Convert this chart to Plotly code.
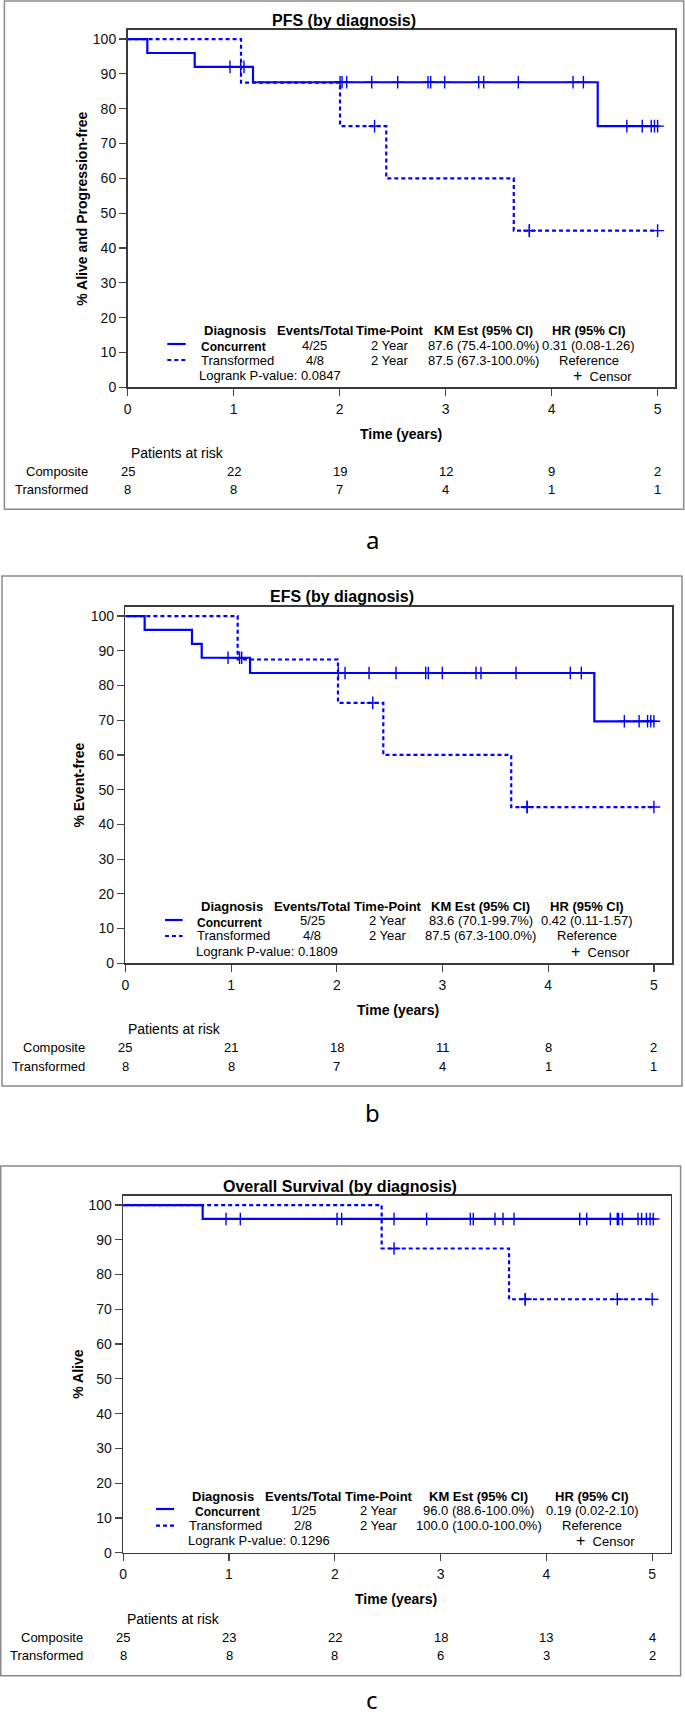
import plotly.graph_objects as go

W, H = 685, 1716
FONT = "Liberation Sans, Arial, sans-serif"
BLUE = "#0000FF"

# ---------------- data ----------------
titles = ["PFS (by diagnosis)", "EFS (by diagnosis)", "Overall Survival (by diagnosis)"]
ytitles = ["% Alive and Progression-free", "% Event-free", "% Alive"]
panel_labels = ["a", "b", "c"]
groups = ["Concurrent", "Transformed"]
risk_rows = ["Composite", "Transformed"]
time_ticks = [0, 1, 2, 3, 4, 5]
surv_ticks = [0, 10, 20, 30, 40, 50, 60, 70, 80, 90, 100]

# PFS
pfs_conc_event_t = [0.186, 0.633, 1.183, 4.435]
pfs_conc_event_s = [96.0, 92.0, 87.6, 75.0]
pfs_conc_cens = [0.966, 1.067, 1.098, 2.004, 2.023, 2.067, 2.303, 2.548, 2.834, 2.859,
                 2.991, 3.312, 3.359, 3.686, 4.202, 4.300, 4.710, 4.855, 4.940, 4.970, 5.000]
pfs_tran_event_t = [1.070, 2.004, 2.440, 3.643]
pfs_tran_event_s = [87.5, 75.0, 60.0, 45.0]
pfs_tran_cens = [2.330, 3.790, 3.790, 5.000]
pfs_risk_comp = [25, 22, 19, 12, 9, 2]
pfs_risk_tran = [8, 8, 7, 4, 1, 1]
pfs_stats = [["4/25", "2 Year", "87.6 (75.4-100.0%)", "0.31 (0.08-1.26)"],
             ["4/8", "2 Year", "87.5 (67.3-100.0%)", "Reference"]]
pfs_logrank = "0.0847"

# EFS
efs_conc_event_t = [0.182, 0.630, 0.722, 1.179, 4.436]
efs_conc_event_s = [96.0, 92.0, 88.0, 83.6, 69.7]
efs_conc_cens = [0.971, 1.080, 1.100, 2.014, 2.078, 2.305, 2.560, 2.841, 2.866, 2.998,
                 3.317, 3.364, 3.695, 4.209, 4.313, 4.720, 4.860, 4.940, 4.970, 5.000]
efs_tran_event_t = [1.062, 2.011, 2.440, 3.650]
efs_tran_event_s = [87.5, 75.0, 60.0, 45.0]
efs_tran_cens = [2.340, 3.800, 3.800, 5.000]
efs_risk_comp = [25, 21, 18, 11, 8, 2]
efs_risk_tran = [8, 8, 7, 4, 1, 1]
efs_stats = [["5/25", "2 Year", "83.6 (70.1-99.7%)", "0.42 (0.11-1.57)"],
             ["4/8", "2 Year", "87.5 (67.3-100.0%)", "Reference"]]
efs_logrank = "0.1809"

# OS
os_conc_event_t = [0.751]
os_conc_event_s = [96.0]
os_conc_cens = [0.972, 1.107, 2.021, 2.065, 2.560, 2.868, 3.281, 3.309, 3.514, 3.590, 3.694,
                4.315, 4.381, 4.604, 4.670, 4.683, 4.718, 4.866, 4.900, 4.945, 4.980, 5.010]
os_tran_event_t = [2.443, 3.647]
os_tran_event_s = [87.5, 72.9]
os_tran_cens = [2.560, 3.800, 3.800, 4.670, 5.000]
os_risk_comp = [25, 23, 22, 18, 13, 4]
os_risk_tran = [8, 8, 8, 6, 3, 2]
os_stats = [["1/25", "2 Year", "96.0 (88.6-100.0%)", "0.19 (0.02-2.10)"],
            ["2/8", "2 Year", "100.0 (100.0-100.0%)", "Reference"]]
os_logrank = "0.1296"

stat_headers = ["Diagnosis", "Events/Total", "Time-Point", "KM Est (95% CI)", "HR (95% CI)"]

panels_data = [
    dict(ce_t=pfs_conc_event_t, ce_s=pfs_conc_event_s, cc=pfs_conc_cens,
         te_t=pfs_tran_event_t, te_s=pfs_tran_event_s, tc=pfs_tran_cens,
         rc=pfs_risk_comp, rt=pfs_risk_tran, stats=pfs_stats, lr=pfs_logrank),
    dict(ce_t=efs_conc_event_t, ce_s=efs_conc_event_s, cc=efs_conc_cens,
         te_t=efs_tran_event_t, te_s=efs_tran_event_s, tc=efs_tran_cens,
         rc=efs_risk_comp, rt=efs_risk_tran, stats=efs_stats, lr=efs_logrank),
    dict(ce_t=os_conc_event_t, ce_s=os_conc_event_s, cc=os_conc_cens,
         te_t=os_tran_event_t, te_s=os_tran_event_s, tc=os_tran_cens,
         rc=os_risk_comp, rt=os_risk_tran, stats=os_stats, lr=os_logrank),
]

# ---------------- layout geometry (pixels) ----------------
geo = [
    dict(box=(4.4, 1, 683.7, 509.3), plot=(127.6, 30, 675, 387.3), xmax=5.164, ymax=102.6,
         title=(344, 20), ytitle=(82, 208.7), xtitle=(401, 434), par=(129, 452.7),
         rows=(471.7, 490), rowlab=89.6, leg_y=(330.7, 345, 360, 375.7),
         cols=(234.6, 314.5, 390.1, 483.6, 588.9), diag_left=(198.8, 198.8),
         sample=(167.3, 185.7), lr_left=196.6, cens_right=634.3, lab_y=539),
    dict(box=(2, 576, 682, 1086), plot=(125.4, 606.7, 672, 963.3), xmax=5.171, ymax=102.7,
         title=(342, 596.7), ytitle=(78.6, 785), xtitle=(398.4, 1010), par=(126.3, 1029),
         rows=(1047.7, 1066.7), rowlab=86.5, leg_y=(906.7, 921, 936, 951.7),
         cols=(231.5, 312, 388, 480.6, 586.7), diag_left=(195.3, 195.3),
         sample=(165, 182.6), lr_left=194.4, cens_right=631.7, lab_y=1112),
    dict(box=(0.8, 1166, 680.6, 1675.7), plot=(123.2, 1196, 670.6, 1552.7), xmax=5.174, ymax=102.6,
         title=(340, 1186), ytitle=(77.8, 1374), xtitle=(396, 1599), par=(124.5, 1618.7),
         rows=(1637, 1655.7), rowlab=85.2, leg_y=(1496, 1510, 1525.7, 1540.7),
         cols=(222.8, 303, 379.2, 478.8, 592.4), diag_left=(193, 187),
         sample=(156, 174), lr_left=185.7, cens_right=637, lab_y=1699),
]


def X(px):
    return px / W


def Y(py):
    return 1 - py / H


fig = go.Figure()
annotations = []
shapes = []


def txt(x, y, text, size=13, bold=False, xanchor="center", xref="paper", color="#000",
        angle=0, family=FONT):
    annotations.append(dict(
        x=x, y=y, xref=xref, yref="paper", text=f"<b>{text}</b>" if bold else text,
        showarrow=False, xanchor=xanchor, yanchor="middle", textangle=angle,
        font=dict(family=family, size=size, color=color)))


def step_xy(ev_t, ev_s, cens):
    end = max(cens + ev_t)
    xs = [0] + list(ev_t) + [end]
    ys = [100] + list(ev_s) + [ev_s[-1]]
    return xs, ys


def surv_at(t, ev_t, ev_s):
    s = 100.0
    for et, es in zip(ev_t, ev_s):
        if et <= t:
            s = es
    return s


for i, (d, g) in enumerate(zip(panels_data, geo)):
    n = i + 1
    xa = "x" if n == 1 else f"x{n}"
    ya = "y" if n == 1 else f"y{n}"
    l, t, r, b = g["plot"]
    axis_common = dict(showgrid=False, zeroline=False, showline=True, mirror=True,
                       linecolor="#3a3a3a", linewidth=1.6, ticks="outside", ticklen=7,
                       tickwidth=1.2, tickcolor="#444", automargin=False,
                       tickfont=dict(family=FONT, size=14, color="#111"))
    fig.update_layout(**{
        ("xaxis" if n == 1 else f"xaxis{n}"): dict(
            domain=[X(l), X(r)], range=[0, g["xmax"]], anchor=ya,
            tickvals=time_ticks, ticklabelstandoff=1, **axis_common),
        ("yaxis" if n == 1 else f"yaxis{n}"): dict(
            domain=[Y(b), Y(t)], range=[0, g["ymax"]], anchor=xa,
            tickvals=surv_ticks, **axis_common),
    })

    # curves
    for ev_t, ev_s, cens, dash in [(d["ce_t"], d["ce_s"], d["cc"], "solid"),
                                   (d["te_t"], d["te_s"], d["tc"], "4px,3px")]:
        xs, ys = step_xy(ev_t, ev_s, cens)
        fig.add_trace(go.Scatter(x=xs, y=ys, mode="lines", line_shape="hv",
                                 line=dict(color=BLUE, width=2.2, dash=dash),
                                 xaxis=xa, yaxis=ya, showlegend=False, hoverinfo="skip"))
        fig.add_trace(go.Scatter(x=cens, y=[surv_at(c, ev_t, ev_s) for c in cens],
                                 mode="markers",
                                 marker=dict(symbol="cross-thin", size=9,
                                             line=dict(color=BLUE, width=1.4)),
                                 xaxis=xa, yaxis=ya, showlegend=False, hoverinfo="skip"))

    # outer box
    bx0, by0, bx1, by1 = g["box"]
    shapes.append(dict(type="rect", xref="paper", yref="paper", x0=X(bx0), x1=X(bx1),
                       y0=Y(by1), y1=Y(by0), line=dict(color="#8a8a8a", width=1.5)))

    # titles
    txt(X(g["title"][0]), Y(g["title"][1]), titles[i], size=16, bold=True)
    txt(X(g["ytitle"][0]), Y(g["ytitle"][1]), ytitles[i], size=14, bold=True, angle=-90)
    txt(X(g["xtitle"][0]), Y(g["xtitle"][1]), "Time (years)", size=14, bold=True)

    # risk table
    txt(X(g["par"][0]), Y(g["par"][1]), "Patients at risk", size=14, xanchor="left")
    for row_name, row_vals, ry in zip(risk_rows, [d["rc"], d["rt"]], g["rows"]):
        txt(X(g["rowlab"]), Y(ry), row_name, size=13, xanchor="right")
        for tv, v in zip(time_ticks, row_vals):
            txt(tv, Y(ry), str(v), size=13, xref=xa)

    # statistics legend
    hy, r1, r2, ly = g["leg_y"]
    for c, h in zip(g["cols"], stat_headers):
        txt(X(c), Y(hy), h, size=13, bold=True)
    txt(X(g["diag_left"][0]), Y(r1 + 2), groups[0], size=12, bold=True, xanchor="left")
    txt(X(g["diag_left"][1]), Y(r2), groups[1], size=13, xanchor="left")
    for ry, row in zip((r1, r2), d["stats"]):
        for c, v in zip(g["cols"][1:], row):
            txt(X(c), Y(ry), v, size=13)
    txt(X(g["lr_left"]), Y(ly), "Logrank P-value: " + d["lr"], size=13, xanchor="left")
    txt(X(g["cens_right"]), Y(ly), "<span style='font-size:16px'>+</span>  Censor", size=13,
        xanchor="right")
    s0, s1 = g["sample"]
    shapes.append(dict(type="line", xref="paper", yref="paper", x0=X(s0), x1=X(s1),
                       y0=Y(r1 - 1), y1=Y(r1 - 1), line=dict(color=BLUE, width=2.2)))
    shapes.append(dict(type="line", xref="paper", yref="paper", x0=X(s0), x1=X(s1),
                       y0=Y(r2), y1=Y(r2), line=dict(color=BLUE, width=2.2, dash="4px,3px")))

    # panel label
    txt(X(372), Y(g["lab_y"]), panel_labels[i], size=24, family="Noto Sans, Open Sans, sans-serif")

fig.update_layout(template="none", width=W, height=H, autosize=False,
                  margin=dict(l=0, r=0, t=0, b=0, autoexpand=False),
                  paper_bgcolor="white", plot_bgcolor="white",
                  annotations=annotations, shapes=shapes, showlegend=False)

fig.write_html("out.html", config={"displayModeBar": False, "staticPlot": True},
               post_script="document.body.style.margin='0';document.body.style.padding='0';"
                           "document.body.style.overflow='hidden';")
